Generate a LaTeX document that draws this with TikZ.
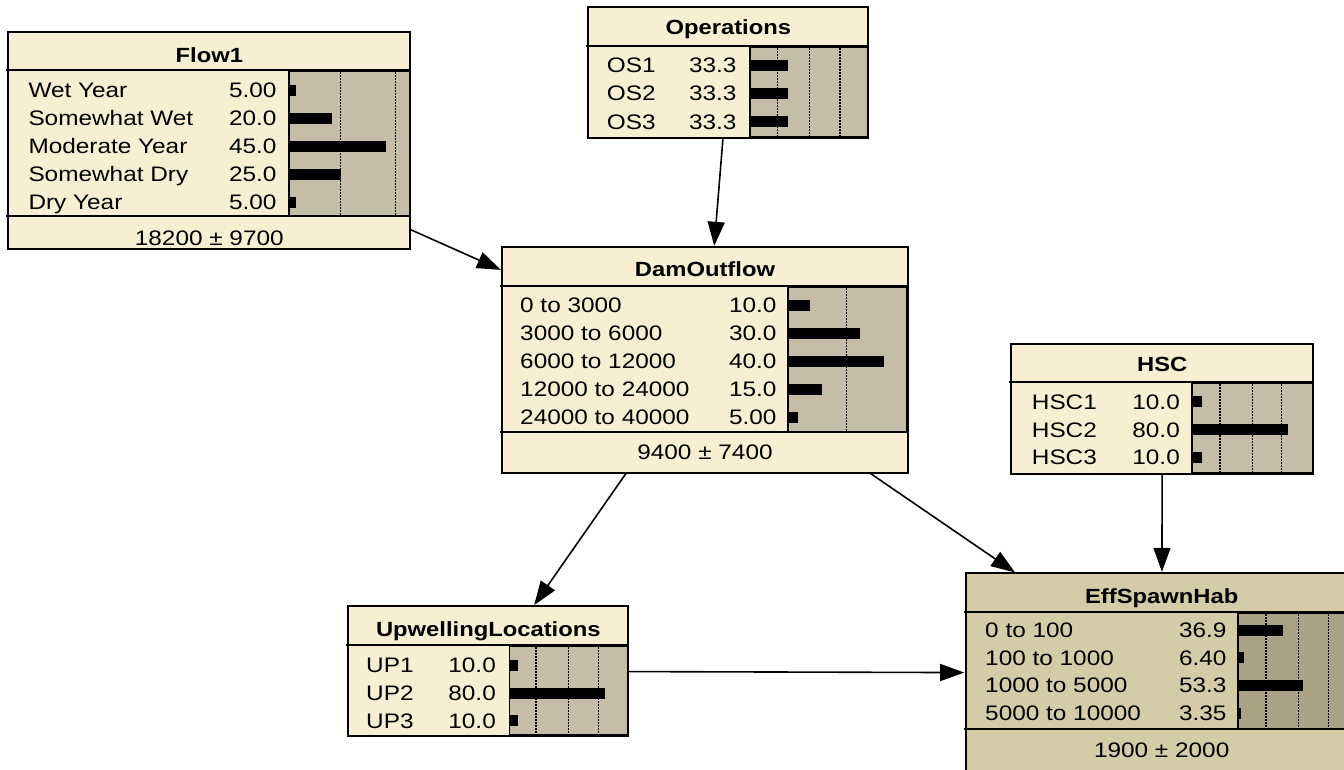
\documentclass[tikz,border=0pt]{standalone}
\usepackage{fontspec}
\usetikzlibrary{arrows.meta}
\newfontfamily\nfam[FakeStretch=1.16]{Liberation Sans}
\definecolor{nodebg}{RGB}{248,238,212}
\definecolor{chartbg}{RGB}{197,189,168}
\definecolor{selbg}{RGB}{213,203,166}
\definecolor{selchart}{RGB}{170,162,132}
\tikzset{
  boxnode/.style={fill=nodebg, inner sep=0pt, outer sep=1pt},
  border/.style={draw=black, line width=2pt},
  divline/.style={draw=black, line width=2pt},
  chartbox/.style={fill=chartbg, draw=black, line width=1.6pt},
  gridline/.style={draw=black, line width=1.4pt, dash pattern=on 1.5pt off 1.5pt},
  txt/.style={inner sep=0pt, font=\nfam\fontsize{21}{24}\selectfont},
  ttl/.style={inner sep=0pt, font=\nfam\bfseries\fontsize{20.5}{24}\selectfont},
  conn/.style={draw=black, line width=1.6pt, shorten >=1.5pt, -{Triangle[length=24pt,width=17pt]}},
}
% one state row: name, label x, value right x, row centre y, label, value
\newcommand\netrow[6]{%
  \node[txt, anchor=base west] (#1-l) at (#2,#4+7.5) {#5};
  \node[txt, anchor=base east] (#1-v) at (#3,#4+7.5) {#6};}
% belief bar: x start, x end, row centre y
\newcommand\netbar[3]{\fill[black] (#1,#3-5.5) rectangle (#2,#3+5.5);}
% dotted grid line: x, top y, bottom y
\newcommand\netgrid[3]{\draw[gridline] (#1,#2) -- (#1,#3);}
% horizontal divider: x from, x to, y
\newcommand\netdiv[3]{\draw[divline] (#1,#3) -- (#2,#3);}
\begin{document}
\begin{tikzpicture}[x=1pt,y=-1pt]
\useasboundingbox (0,0) rectangle (1344,769);
\fill[white] (0,0) rectangle (1344,769);
\clip (0,0) rectangle (1344,769);

% ---------------- node boxes ----------------
\node[boxnode, minimum width=400pt, minimum height=215pt] (flow) at (209.3,140.8) {};
\node[boxnode, minimum width=278pt, minimum height=128.4pt] (ops) at (728.3,72.5) {};
\node[boxnode, minimum width=403.4pt, minimum height=223.4pt] (dam) at (705,360) {};
\node[boxnode, minimum width=300pt, minimum height=127.7pt] (hsc) at (1162.3,408.85) {};
\node[boxnode, minimum width=278pt, minimum height=127.7pt] (up) at (488.3,671.15) {};
\node[boxnode, fill=selbg, minimum width=390pt, minimum height=197.7pt] (eff) at (1161.7,673.15) {};

% ---------------- Flow1 ----------------
\draw[chartbox] (289,71) rectangle (409.3,216);
\netgrid{340.7}{72}{216}
\netgrid{395.7}{72}{216}
\netbar{289}{296}{90}
\netbar{289}{331.7}{118}
\netbar{289}{385.7}{146}
\netbar{289}{340.7}{174}
\netbar{289}{296}{202}
\netdiv{6.3}{409.3}{70}
\netdiv{6.3}{409.3}{216}
\node[ttl, anchor=base] (flow-t) at (209.3,62.3) {Flow1};
\netrow{flow-a}{28.3}{276.7}{90}{Wet Year}{5.00}
\netrow{flow-b}{28.3}{276.7}{118}{Somewhat Wet}{20.0}
\netrow{flow-c}{28.3}{276.7}{146}{Moderate Year}{45.0}
\netrow{flow-d}{28.3}{276.7}{174}{Somewhat Dry}{25.0}
\netrow{flow-e}{28.3}{276.7}{202}{Dry Year}{5.00}
\node[txt, anchor=base] (flow-m) at (209.3,245) {18200 ± 9700};

% ---------------- Operations ----------------
\draw[chartbox] (750,47) rectangle (867.3,136.7);
\netgrid{777.3}{48}{136}
\netgrid{809.3}{48}{136}
\netgrid{840}{48}{136}
\netbar{750}{787.7}{65}
\netbar{750}{787.7}{93.3}
\netbar{750}{787.7}{121.7}
\netdiv{586.3}{867.3}{46}
\node[ttl, anchor=base] (ops-t) at (728.3,34) {Operations};
\netrow{ops-a}{606.7}{736.7}{65}{OS1}{33.3}
\netrow{ops-b}{606.7}{736.7}{93.3}{OS2}{33.3}
\netrow{ops-c}{606.7}{736.7}{121.7}{OS3}{33.3}

% ---------------- DamOutflow ----------------
\draw[chartbox] (787.7,287) rectangle (906.7,432.3);
\netgrid{846.7}{288}{432}
\netbar{787.7}{810}{305}
\netbar{787.7}{860}{333}
\netbar{787.7}{884.3}{361}
\netbar{787.7}{821.7}{389}
\netbar{787.7}{797.7}{417}
\netdiv{500.3}{906.7}{285.7}
\netdiv{500.3}{906.7}{432.3}
\node[ttl, anchor=base] (dam-t) at (705,276.6) {DamOutflow};
\netrow{dam-a}{520}{776.7}{305}{0 to 3000}{10.0}
\netrow{dam-b}{520}{776.7}{333}{3000 to 6000}{30.0}
\netrow{dam-c}{520}{776.7}{361}{6000 to 12000}{40.0}
\netrow{dam-d}{520}{776.7}{389}{12000 to 24000}{15.0}
\netrow{dam-e}{520}{776.7}{417}{24000 to 40000}{5.00}
\node[txt, anchor=base] (dam-m) at (705,459.2) {9400 ± 7400};

% ---------------- HSC ----------------
\draw[chartbox] (1191.7,383.5) rectangle (1312.3,472.7);
\netgrid{1220}{384}{472}
\netgrid{1252.3}{384}{472}
\netgrid{1281.7}{384}{472}
\netbar{1191.7}{1201.7}{401.7}
\netbar{1191.7}{1288.3}{429.5}
\netbar{1191.7}{1201.7}{457}
\netdiv{1009.3}{1312.3}{382.3}
\node[ttl, anchor=base] (hsc-t) at (1162.3,371.3) {HSC};
\netrow{hsc-a}{1031.7}{1180}{401.7}{HSC1}{10.0}
\netrow{hsc-b}{1031.7}{1180}{429.5}{HSC2}{80.0}
\netrow{hsc-c}{1031.7}{1180}{457}{HSC3}{10.0}

% ---------------- UpwellingLocations ----------------
\draw[chartbox] (509.3,646.5) rectangle (627.3,735);
\netgrid{536}{647}{735}
\netgrid{568.3}{647}{735}
\netgrid{598.3}{647}{735}
\netbar{509.3}{518.3}{665}
\netbar{509.3}{605}{693}
\netbar{509.3}{518.3}{720.7}
\netdiv{346.3}{627.3}{645}
\node[ttl, anchor=base] (up-t) at (488.3,636.6) {UpwellingLocations};
\netrow{up-a}{366}{496}{665}{UP1}{10.0}
\netrow{up-b}{366}{496}{693}{UP2}{80.0}
\netrow{up-c}{366}{496}{720.7}{UP3}{10.0}

% ---------------- EffSpawnHab ----------------
\draw[chartbox, fill=selchart] (1237.7,613) rectangle (1356.7,729.3);
\netgrid{1266}{614}{729}
\netgrid{1298.3}{614}{729}
\netgrid{1328.3}{614}{729}
\netbar{1237.7}{1282.7}{630}
\netbar{1237.7}{1244}{657.7}
\netbar{1237.7}{1302.7}{685.3}
\netbar{1237.7}{1241}{713}
\netdiv{963.7}{1357}{611.7}
\netdiv{963.7}{1357}{729.3}
\node[ttl, anchor=base] (eff-t) at (1161.7,603) {EffSpawnHab};
\netrow{eff-a}{985}{1226.7}{630}{0 to 100}{36.9}
\netrow{eff-b}{985}{1226.7}{657.7}{100 to 1000}{6.40}
\netrow{eff-c}{985}{1226.7}{685.3}{1000 to 5000}{53.3}
\netrow{eff-d}{985}{1226.7}{713}{5000 to 10000}{3.35}
\node[txt, anchor=base] (eff-m) at (1161.7,757.5) {1900 ± 2000};

% ---------------- borders ----------------
\foreach \n in {flow,ops,dam,hsc,up,eff}
  \draw[border] (\n.south west) rectangle (\n.north east);

% ---------------- links ----------------
\draw[conn] (flow) -- (dam);
\draw[conn] (ops) -- (dam);
\draw[conn] (dam) -- (up);
\draw[conn] (dam) -- (eff);
\draw[conn] (hsc) -- (eff);
\draw[conn] (up) -- (eff);
\end{tikzpicture}
\end{document}
